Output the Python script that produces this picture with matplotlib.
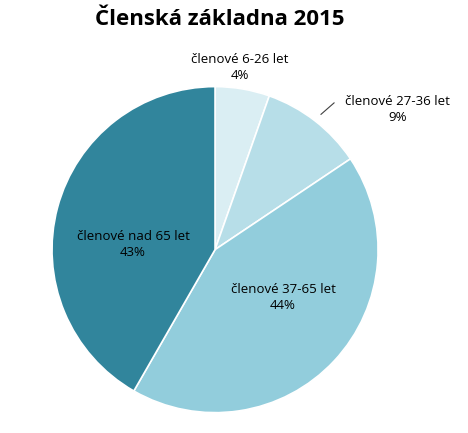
import matplotlib
matplotlib.use("Agg")
import matplotlib.pyplot as plt

categories = ["členové 6-26 let", "členové 27-36 let", "členové 37-65 let", "členové nad 65 let"]
sizes = [5.4, 10.2, 42.7, 41.7]
pct_labels = ["4%", "9%", "44%", "43%"]
colors = ["#DAEEF3", "#B7DEE8", "#92CDDC", "#31859C"]

plt.rcParams['font.family'] = ['Open Sans', 'DejaVu Sans']
fig = plt.figure(figsize=(4.68, 4.33), dpi=100)
fig.text(0.47, 0.955, "Členská základna 2015", ha="center", va="center",
         fontsize=16, fontweight="bold")
ax = fig.add_axes([0.111, 0.047, 0.697, 0.753])
ax.pie(sizes, colors=colors, startangle=90, counterclock=False,
       wedgeprops=dict(edgecolor="white", linewidth=1.2))
ax.set_xlim(-1, 1); ax.set_ylim(-1, 1)
pos = [(0.153, 1.117), (1.12, 0.859), (0.417, -0.294), (-0.503, 0.031)]
for (x, y), c, p in zip(pos, categories, pct_labels):
    ax.text(x, y, f"{c}\n{p}", ha="center", va="center", fontsize=9.5,
            clip_on=False, linespacing=1.3)
ax.plot([0.65, 0.73], [0.83, 0.90], color="#404040", lw=0.8, clip_on=False)
fig.savefig("out.png", dpi=100)
